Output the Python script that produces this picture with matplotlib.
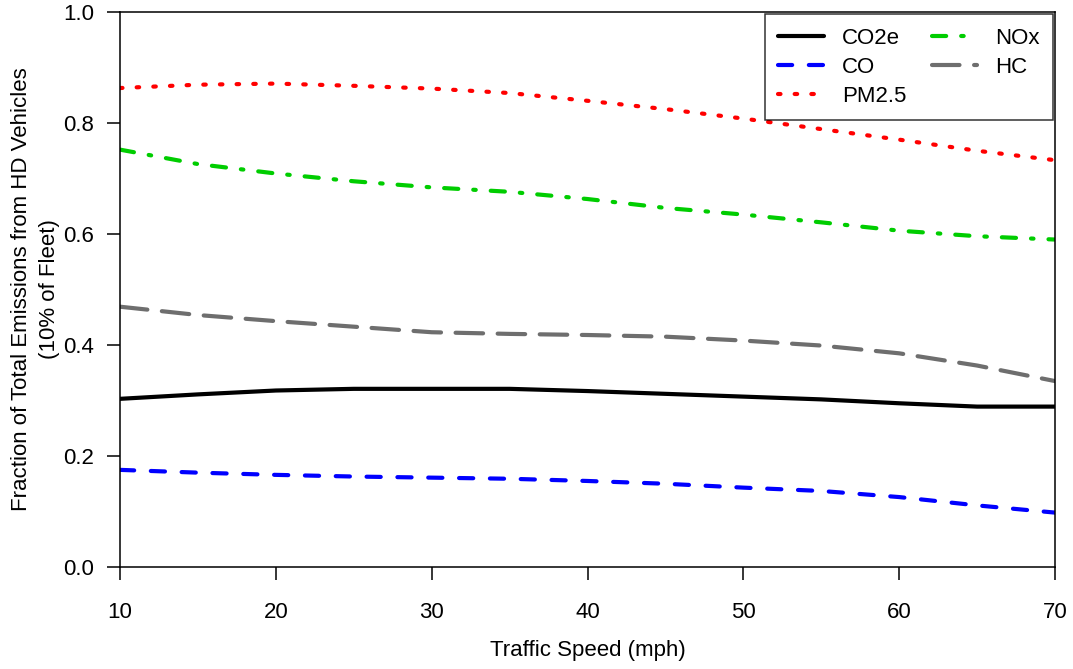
import matplotlib
matplotlib.use("Agg")
import matplotlib.pyplot as plt

plt.rcParams['font.family'] = ['Liberation Sans', 'DejaVu Sans']

# speeds (mph) and fraction of emissions for each pollutant
speed = [10, 15, 20, 25, 30, 35, 40, 45, 50, 55, 60, 65, 70]
co2e = [0.303, 0.311, 0.318, 0.321, 0.321, 0.321, 0.317, 0.312, 0.307, 0.302, 0.295, 0.289, 0.289]
co = [0.175, 0.170, 0.166, 0.163, 0.161, 0.159, 0.155, 0.150, 0.143, 0.137, 0.126, 0.111, 0.098]
pm25 = [0.863, 0.869, 0.871, 0.867, 0.862, 0.854, 0.840, 0.825, 0.808, 0.789, 0.770, 0.750, 0.733]
nox = [0.752, 0.726, 0.709, 0.695, 0.684, 0.676, 0.663, 0.647, 0.635, 0.621, 0.606, 0.596, 0.590]
hc = [0.469, 0.454, 0.443, 0.433, 0.423, 0.420, 0.418, 0.415, 0.408, 0.399, 0.385, 0.363, 0.335]

xticks = [10, 20, 30, 40, 50, 60, 70]
yticks = [0.0, 0.2, 0.4, 0.6, 0.8, 1.0]

fs = 16
lw = 3.0

fig = plt.figure(figsize=(10.73, 6.69), dpi=100)
ax = fig.add_axes([0.11184, 0.15247, 0.87139, 0.82960])

# one line per pollutant
ax.plot(speed, co2e, color='black', lw=lw, solid_capstyle='round', label='CO2e')
ax.plot(speed, co, color='#0000ff', lw=lw, dashes=(3.4, 4.0), dash_capstyle='round', label='CO')
ax.plot(speed, pm25, color='#ff0000', lw=lw, dashes=(0.6, 3.4), dash_capstyle='round', label='PM2.5')
ax.plot(speed, nox, color='#00cd00', lw=lw, dashes=(3.4, 3.6, 0.6, 3.6), dash_capstyle='round', label='NOx')
ax.plot(speed, hc, color='#6e6e6e', lw=lw, dashes=(6.6, 3.5), dash_capstyle='round', label='HC')

ax.set_xlim(10, 70)
ax.set_ylim(0, 1)
ax.set_xticks(xticks)
ax.set_yticks(yticks)
ax.set_yticklabels([f"{v:.1f}" for v in yticks])

for s in ax.spines.values():
    s.set_linewidth(1.1)
ax.tick_params(axis='both', direction='out', length=9.5, width=1.1, labelsize=fs)
ax.tick_params(axis='x', pad=16)
ax.tick_params(axis='y', pad=9)

ax.set_xlabel('Traffic Speed (mph)', fontsize=fs, labelpad=12)
ax.text(-0.0904, 0.5, 'Fraction of Total Emissions from HD Vehicles\n(10% of Fleet)',
        transform=ax.transAxes, rotation=90, ha='center', va='center',
        multialignment='center', fontsize=fs, linespacing=1.4)

# legend in two columns, top right corner
leg = ax.legend(loc='upper right', ncol=2, fontsize=fs, frameon=True, fancybox=False,
                borderaxespad=0.1, handlelength=2.05, handletextpad=0.8,
                columnspacing=1.15, labelspacing=0.36, borderpad=0.6)
leg.get_frame().set_edgecolor('black')
leg.get_frame().set_linewidth(1.1)

fig.savefig('out.png', dpi=100)
